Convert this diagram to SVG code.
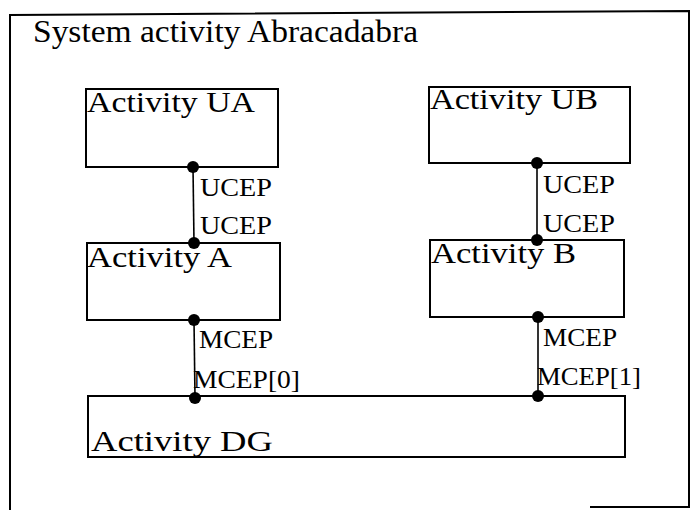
<svg xmlns="http://www.w3.org/2000/svg" width="695" height="510" viewBox="0 0 695 510">
<style>
.box{fill:none;stroke:#000;stroke-width:2}
.conn{fill:none;stroke:#000;stroke-width:1.6}
.dot{fill:#000}
text{font-family:"Liberation Serif","DejaVu Serif",serif;fill:#000}
.name{font-size:30px}
.lbl{font-size:26px}
</style>
<rect width="695" height="510" fill="#fff"/>
<g id="frame">
<path class="box" d="M10,510 L10,15 L689,11 L689,507 L590,507"/>
<text x="33" y="42" font-size="32" textLength="385" lengthAdjust="spacingAndGlyphs">System activity Abracadabra</text>
</g>
<g id="activity-ua">
<rect class="box" x="86" y="89" width="192" height="78"/>
<text class="name" x="87" y="112" textLength="168" lengthAdjust="spacingAndGlyphs">Activity UA</text>
</g>
<g id="activity-ub">
<rect class="box" x="429" y="87" width="201" height="76"/>
<text class="name" x="430" y="109" textLength="168" lengthAdjust="spacingAndGlyphs">Activity UB</text>
</g>
<g id="activity-a">
<rect class="box" x="87" y="243" width="193" height="77"/>
<text class="name" x="87" y="267" textLength="145" lengthAdjust="spacingAndGlyphs">Activity A</text>
</g>
<g id="activity-b">
<rect class="box" x="430" y="240" width="194" height="77"/>
<text class="name" x="431" y="263" textLength="145" lengthAdjust="spacingAndGlyphs">Activity B</text>
</g>
<g id="activity-dg">
<rect class="box" x="88" y="396" width="537" height="61"/>
<text class="name" x="91" y="451" textLength="182" lengthAdjust="spacingAndGlyphs">Activity DG</text>
</g>
<g id="connectors">
<line class="conn" x1="193" y1="167" x2="194" y2="243"/>
<circle class="dot" cx="193" cy="167" r="6"/>
<circle class="dot" cx="194" cy="243" r="6"/>
<text class="lbl" x="200" y="196" textLength="72" lengthAdjust="spacingAndGlyphs">UCEP</text>
<text class="lbl" x="200" y="234" textLength="72" lengthAdjust="spacingAndGlyphs">UCEP</text>

<line class="conn" x1="537" y1="163" x2="537" y2="240"/>
<circle class="dot" cx="537" cy="163" r="6"/>
<circle class="dot" cx="537" cy="240" r="6"/>
<text class="lbl" x="543" y="193" textLength="72" lengthAdjust="spacingAndGlyphs">UCEP</text>
<text class="lbl" x="543" y="232" textLength="72" lengthAdjust="spacingAndGlyphs">UCEP</text>

<line class="conn" x1="194" y1="320" x2="195" y2="398"/>
<circle class="dot" cx="194" cy="320" r="6"/>
<circle class="dot" cx="195" cy="398" r="6"/>
<text class="lbl" x="199" y="348" textLength="74" lengthAdjust="spacingAndGlyphs">MCEP</text>
<text class="lbl" x="193" y="388" textLength="107" lengthAdjust="spacingAndGlyphs">MCEP[0]</text>

<line class="conn" x1="538" y1="317" x2="538" y2="396"/>
<circle class="dot" cx="538" cy="317" r="6"/>
<circle class="dot" cx="538" cy="396" r="6"/>
<text class="lbl" x="543" y="346" textLength="74" lengthAdjust="spacingAndGlyphs">MCEP</text>
<text class="lbl" x="537" y="385" textLength="104" lengthAdjust="spacingAndGlyphs">MCEP[1]</text>
</g>
</svg>
